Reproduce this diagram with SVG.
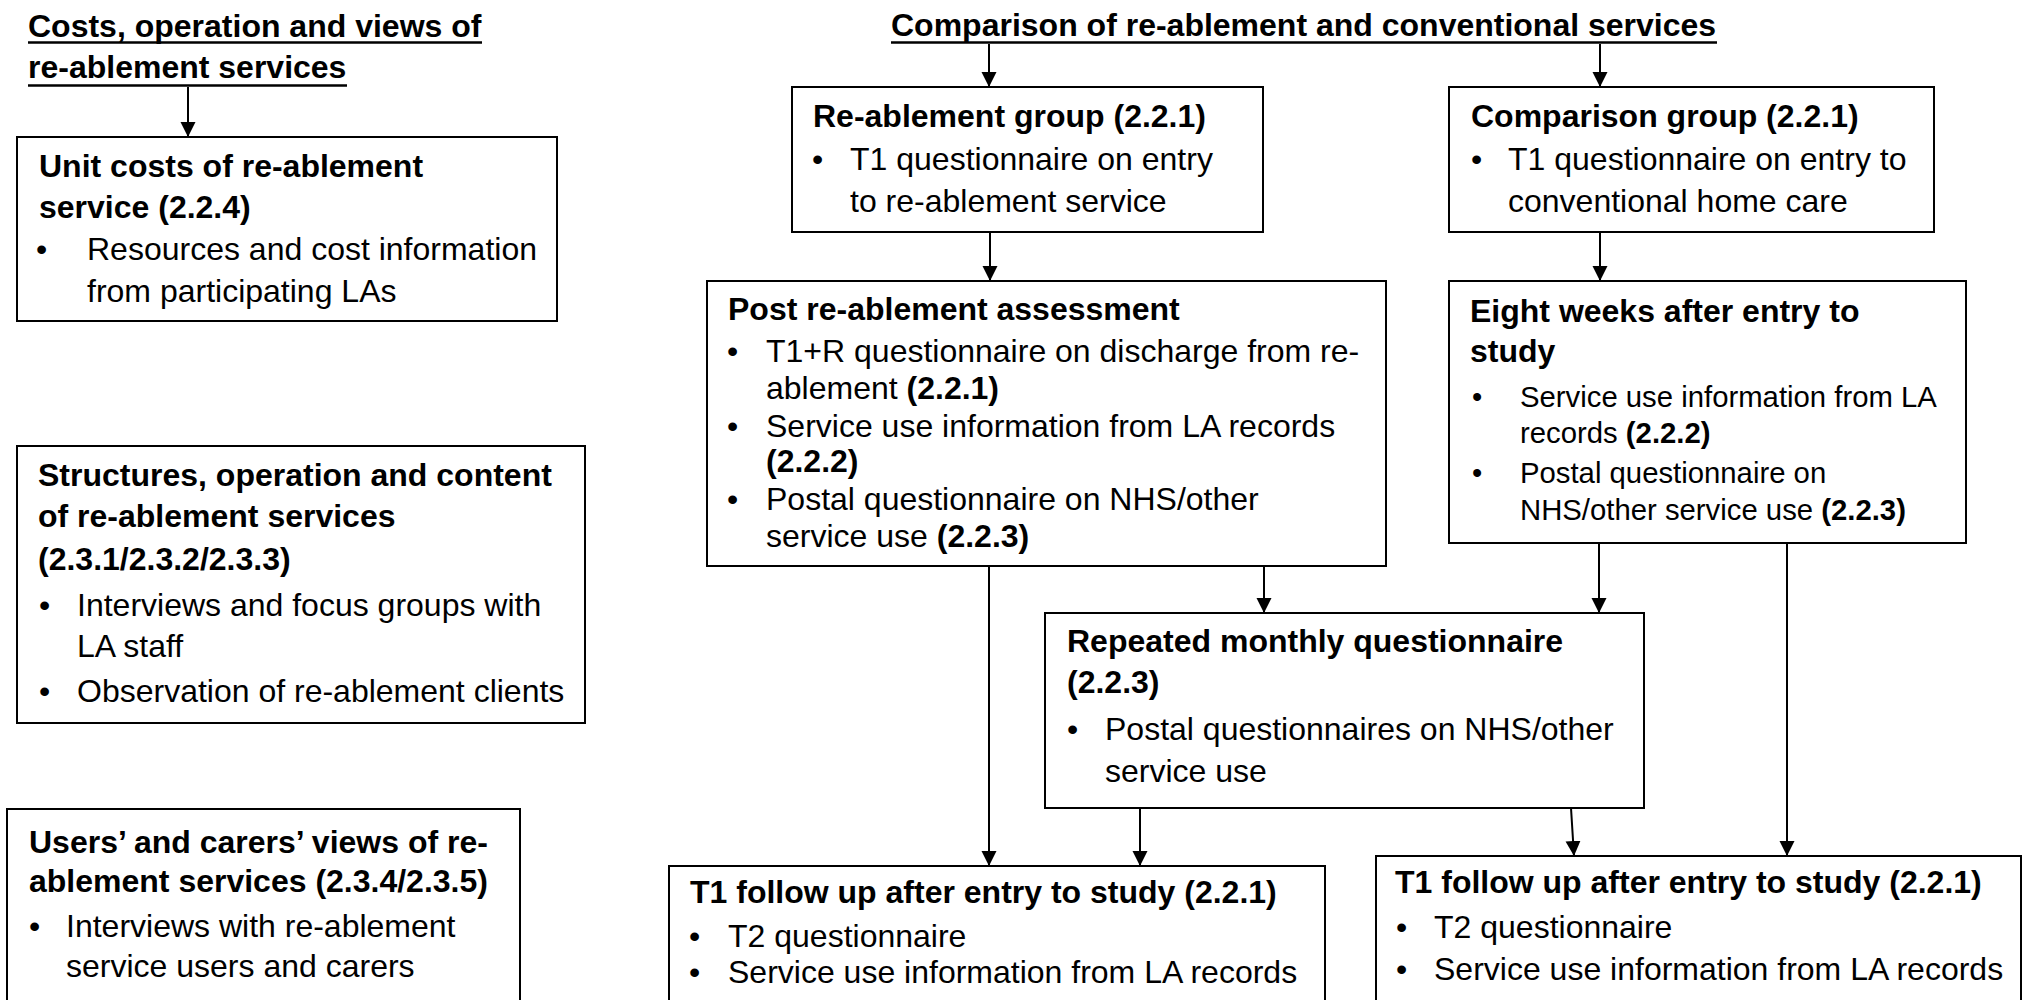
<svg xmlns="http://www.w3.org/2000/svg" width="2024" height="1000" viewBox="0 0 2024 1000">
<defs>
<style>
text { font-family: "Liberation Sans", Arial, sans-serif; font-size: 32px; fill: #000; }
.b { font-weight: bold; }
.s { font-size: 29.3px; }
.box { fill: #fff; stroke: #000; stroke-width: 2; }
.conn { stroke: #000; stroke-width: 2; fill: none; marker-end: url(#arr); }
.ul { stroke: #000; stroke-width: 2.5; }
</style>
<marker id="arr" markerUnits="userSpaceOnUse" markerWidth="16" markerHeight="16" refX="15" refY="7.5" orient="auto">
<path d="M0,0 L15,7.5 L0,15 z" fill="#000"/>
</marker>
</defs>
<rect width="2024" height="1000" fill="#fff"/>

<g id="title-costs">
<text class="b" x="28" y="37">Costs, operation and views of</text>
<text class="b" x="28" y="78">re-ablement services</text>
<line class="ul" x1="28" y1="42.5" x2="482" y2="42.5"/>
<line class="ul" x1="28" y1="85.5" x2="347" y2="85.5"/>
</g>

<g id="title-comparison">
<text class="b" x="891" y="36">Comparison of re-ablement and conventional services</text>
<line class="ul" x1="891" y1="42.5" x2="1717" y2="42.5"/>
</g>

<g id="unit-costs">
<rect class="box" x="17" y="137" width="540" height="184"/>
<text class="b" x="39" y="177">Unit costs of re-ablement</text>
<text class="b" x="39" y="218">service (2.2.4)</text>
<text x="36" y="260">•</text>
<text x="87" y="260">Resources and cost information</text>
<text x="87" y="302">from participating LAs</text>
</g>

<g id="structures">
<rect class="box" x="17" y="446" width="568" height="277"/>
<text class="b" x="38" y="486">Structures, operation and content</text>
<text class="b" x="38" y="527">of re-ablement services</text>
<text class="b" x="38" y="570">(2.3.1/2.3.2/2.3.3)</text>
<text x="39" y="616">•</text>
<text x="77" y="616">Interviews and focus groups with</text>
<text x="77" y="657">LA staff</text>
<text x="39" y="702">•</text>
<text x="77" y="702">Observation of re-ablement clients</text>
</g>

<g id="users-views">
<rect class="box" x="7" y="809" width="513" height="210"/>
<text class="b" x="29" y="853">Users’ and carers’ views of re-</text>
<text class="b" x="29" y="892">ablement services (2.3.4/2.3.5)</text>
<text x="29" y="937">•</text>
<text x="66" y="937">Interviews with re-ablement</text>
<text x="66" y="977">service users and carers</text>
</g>

<g id="reablement-group">
<rect class="box" x="792" y="87" width="471" height="145"/>
<text class="b" x="813" y="127">Re-ablement group (2.2.1)</text>
<text x="812" y="170">•</text>
<text x="850" y="170">T1 questionnaire on entry</text>
<text x="850" y="212">to re-ablement service</text>
</g>

<g id="comparison-group">
<rect class="box" x="1449" y="87" width="485" height="145"/>
<text class="b" x="1471" y="127">Comparison group (2.2.1)</text>
<text x="1471" y="170">•</text>
<text x="1508" y="170">T1 questionnaire on entry to</text>
<text x="1508" y="212">conventional home care</text>
</g>

<g id="post-reablement">
<rect class="box" x="707" y="281" width="679" height="285"/>
<text class="b" x="728" y="320">Post re-ablement assessment</text>
<text x="727" y="362">•</text>
<text x="766" y="362">T1+R questionnaire on discharge from re-</text>
<text x="766" y="399">ablement <tspan class="b">(2.2.1)</tspan></text>
<text x="727" y="437">•</text>
<text x="766" y="437">Service use information from LA records</text>
<text class="b" x="766" y="472">(2.2.2)</text>
<text x="727" y="510">•</text>
<text x="766" y="510">Postal questionnaire on NHS/other</text>
<text x="766" y="547">service use <tspan class="b">(2.2.3)</tspan></text>
</g>

<g id="eight-weeks">
<rect class="box" x="1449" y="281" width="517" height="262"/>
<text class="b" x="1470" y="322">Eight weeks after entry to</text>
<text class="b" x="1470" y="362">study</text>
<text class="s" x="1472" y="407">•</text>
<text class="s" x="1520" y="407">Service use information from LA</text>
<text class="s" x="1520" y="443">records <tspan class="b">(2.2.2)</tspan></text>
<text class="s" x="1472" y="483">•</text>
<text class="s" x="1520" y="483">Postal questionnaire on</text>
<text class="s" x="1520" y="520">NHS/other service use <tspan class="b">(2.2.3)</tspan></text>
</g>

<g id="repeated-monthly">
<rect class="box" x="1045" y="613" width="599" height="195"/>
<text class="b" x="1067" y="652">Repeated monthly questionnaire</text>
<text class="b" x="1067" y="693">(2.2.3)</text>
<text x="1067" y="740">•</text>
<text x="1105" y="740">Postal questionnaires on NHS/other</text>
<text x="1105" y="782">service use</text>
</g>

<g id="followup-reablement">
<rect class="box" x="669" y="866" width="656" height="150"/>
<text class="b" x="690" y="903">T1 follow up after entry to study (2.2.1)</text>
<text x="689" y="947">•</text>
<text x="728" y="947">T2 questionnaire</text>
<text x="689" y="983">•</text>
<text x="728" y="983">Service use information from LA records</text>
</g>

<g id="followup-comparison">
<rect class="box" x="1376" y="856" width="645" height="160"/>
<text class="b" x="1395" y="893">T1 follow up after entry to study (2.2.1)</text>
<text x="1396" y="938">•</text>
<text x="1434" y="938">T2 questionnaire</text>
<text x="1396" y="980">•</text>
<text x="1434" y="980">Service use information from LA records</text>
</g>

<g id="connectors">
<line class="conn" x1="188" y1="87" x2="188" y2="137"/>
<line class="conn" x1="989" y1="44" x2="989" y2="87"/>
<line class="conn" x1="1600" y1="44" x2="1600" y2="87"/>
<line class="conn" x1="990" y1="232" x2="990" y2="281"/>
<line class="conn" x1="1600" y1="232" x2="1600" y2="281"/>
<line class="conn" x1="989" y1="566" x2="989" y2="866"/>
<line class="conn" x1="1264" y1="566" x2="1264" y2="613"/>
<line class="conn" x1="1599" y1="543" x2="1599" y2="613"/>
<line class="conn" x1="1787" y1="543" x2="1787" y2="856"/>
<line class="conn" x1="1140" y1="808" x2="1140" y2="866"/>
<line class="conn" x1="1571" y1="808" x2="1574" y2="856"/>
</g>
</svg>
